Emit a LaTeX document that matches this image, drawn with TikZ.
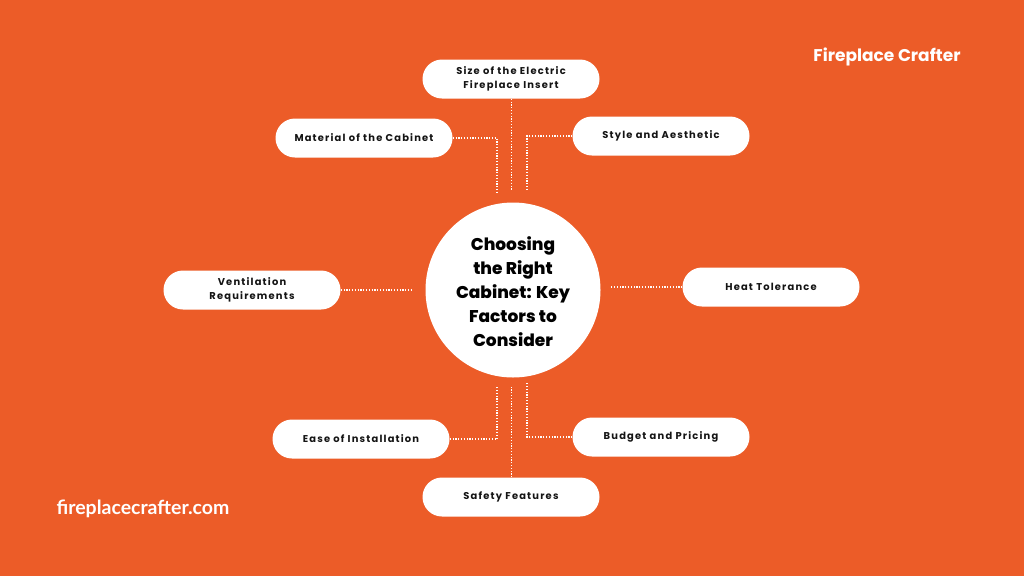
\documentclass[tikz,border=0pt]{standalone}
\usepackage{fontspec}
\setmainfont{Poppins}
\newfontfamily\factorfont{Poppins}[LetterSpace=12]
\newfontfamily\titlefont{Poppins ExtraBold}
\newfontfamily\sitefont{Lato}
\definecolor{flame}{RGB}{236, 92, 40}
\definecolor{inkblack}{RGB}{20, 20, 20}
\usetikzlibrary{positioning, calc}

\begin{document}
\begin{tikzpicture}[x=1pt, y=-1pt,
    factor/.style={fill=white, rounded corners=19.5pt, minimum width=177pt, minimum height=39pt,
      inner sep=0pt, align=center, text=inkblack, font=\factorfont\bfseries\fontsize{9.9}{14}\selectfont},
    link/.style={draw=white, line width=1.3pt, dash pattern=on 1.2pt off 1.6pt}]
  % background and margins
  \fill[flame] (0,0) rectangle (1024,576);
  \useasboundingbox (0,0) rectangle (1024,576);

  % central topic
  \node[circle, fill=white, minimum size=175pt, inner sep=0pt] (hub) at (513, 290) {};
  \node[align=center, text=black, font=\titlefont\fontsize{17}{24}\selectfont] (title) at (513, 292)
    {Choosing\\the Right\\Cabinet: Key\\Factors to\\Consider};

  % factors
  \node[factor] (size) at (511, 79) {Size of the Electric\\Fireplace Insert};
  \node[factor] (material) at (364, 138) {Material of the Cabinet};
  \node[factor] (style) at (661, 136) {Style and Aesthetic};
  \node[factor] (vent) at (252, 290) {Ventilation\\Requirements};
  \node[factor] (heat) at (771, 287) {Heat Tolerance};
  \node[factor] (ease) at (361, 439) {Ease of Installation};
  \node[factor] (budget) at (661, 437) {Budget and Pricing};
  \node[factor] (safety) at (511, 497) {Safety Features};

  % free ends near the hub
  \coordinate (sizeend) at (511.5, 190);
  \coordinate (materialend) at (497, 193);
  \coordinate (styleend) at (527, 190);
  \coordinate (ventend) at (413, 290);
  \coordinate (heatend) at (610, 287);
  \coordinate (easeend) at (497, 387);
  \coordinate (budgetend) at (527, 383);
  \coordinate (safetyend) at (511.5, 386);

  % dotted links
  \draw[link] (size.south -| sizeend) -- (sizeend);
  \draw[link] (material.east) -| (materialend);
  \draw[link] (style.west) -| (styleend);
  \draw[link] (vent.east) -- (ventend);
  \draw[link] (heat.west) -- (heatend);
  \draw[link] (ease.east) -| (easeend);
  \draw[link] (budget.west) -| (budgetend);
  \draw[link] (safety.north -| safetyend) -- (safetyend);

  % branding
  \node[text=white, font=\bfseries\fontsize{17}{20}\selectfont] (brand) at (887, 57) {Fireplace Crafter};
  \node[text=white, font=\sitefont\bfseries\fontsize{19.5}{22}\selectfont] (site) at (143, 509) {fireplacecrafter.com};
\end{tikzpicture}
\end{document}
